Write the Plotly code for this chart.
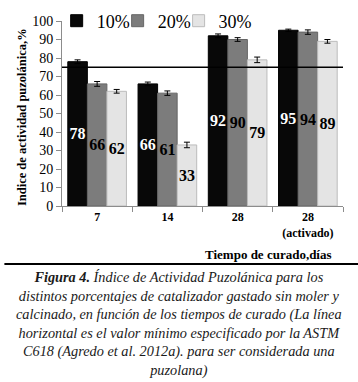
import plotly.graph_objects as go

categories = ["7", "14", "28", "28<br>(activado)"]
series_names = ["10%", "20%", "30%"]
values_10 = [78, 66, 92, 95]
values_20 = [66, 61, 90, 94]
values_30 = [62, 33, 79, 89]
errors_10 = [1.0, 1.0, 1.0, 0.6]
errors_20 = [1.3, 1.2, 1.0, 1.2]
errors_30 = [1.0, 1.5, 1.5, 1.0]
astm_minimum = 75
y_ticks = list(range(0, 101, 10))

colors = ["#080808", "#7c7c7c", "#e4e4e4"]
edge_colors = ["#000000", "#666666", "#bcbcbc"]
text_colors = ["white", "black", "black"]
legend_ids = ["legend", "legend2", "legend3"]
legend_x = [-0.019, 0.198, 0.415]

SERIF = "Liberation Serif, Times New Roman, serif"

fig = go.Figure()
for name, vals, errs, col, ecol, tcol, lid in zip(
    series_names, [values_10, values_20, values_30],
    [errors_10, errors_20, errors_30], colors, edge_colors, text_colors, legend_ids):
    fig.add_trace(go.Bar(
        x=categories, y=vals, name=name, legend=lid,
        marker=dict(color=col, line=dict(color=ecol, width=1)),
        error_y=dict(type="data", array=errs, color="black", thickness=1, width=3),
        text=[f"<b>{v}</b>" for v in vals],
        textposition="inside", insidetextanchor="middle",
        textangle=0, constraintext="none",
        insidetextfont=dict(family=SERIF, size=16, color=tcol),
    ))

fig.add_shape(type="line", xref="paper", yref="y", x0=0, x1=1,
              y0=astm_minimum, y1=astm_minimum,
              line=dict(color="black", width=1.5))

# separator line under chart
fig.add_shape(type="line", xref="paper", yref="paper", x0=-0.205, x1=1.06,
              y0=-0.3135, y1=-0.3135, line=dict(color="black", width=2))

fig.add_annotation(
    text="<b>Indice de actividad puzolánica,%</b>",
    xref="paper", yref="paper", x=-0.142, y=0.481, textangle=-90,
    showarrow=False, font=dict(family=SERIF, size=12.5, color="black"),
    xanchor="center", yanchor="middle")

fig.add_annotation(
    text="<b>Tiempo de curado,días</b>",
    xref="paper", yref="paper", x=0.967, y=-0.262,
    showarrow=False, font=dict(family=SERIF, size=13, color="black"),
    xanchor="right", yanchor="middle")

caption = ("<b><i>Figura 4.</i></b><i> Índice de Actividad Puzolánica para los<br>"
           "distintos porcentajes de catalizador gastado sin moler y<br>"
           "calcinado, en función de los tiempos de curado (La línea<br>"
           "horizontal es el valor mínimo especificado por la ASTM<br>"
           "C618 (Agredo et al. 2012a). para ser considerada una<br>"
           "puzolana)</i>")
fig.add_annotation(
    text=caption, xref="paper", yref="paper", x=0.418, y=-0.638,
    showarrow=False, align="center", xanchor="center", yanchor="middle",
    font=dict(family=SERIF, size=14.3, color="#1a1a1a"))

legend_common = dict(orientation="h", y=1.0, xanchor="left", yanchor="middle",
                     font=dict(family=SERIF, size=18, color="black"),
                     bgcolor="rgba(0,0,0,0)", itemwidth=30)

fig.update_layout(
    width=358, height=382,
    margin=dict(l=62, r=15, t=21, b=176, autoexpand=False),
    paper_bgcolor="white", plot_bgcolor="white",
    barmode="group", bargap=0.165, bargroupgap=0,
    font=dict(family=SERIF, color="black"),
    showlegend=True,
    legend=dict(x=legend_x[0], **legend_common),
    legend2=dict(x=legend_x[1], **legend_common),
    legend3=dict(x=legend_x[2], **legend_common),
)
fig.update_xaxes(
    showline=True, linecolor="#8c8c8c", linewidth=1,
    ticks="outside", tickson="boundaries", ticklen=5, tickcolor="#8c8c8c",
    tickfont=dict(family=SERIF, size=12, color="black"),
    showgrid=False, tickprefix="<b>", ticksuffix="</b>",
)
fig.update_yaxes(
    range=[0, 100], tickvals=y_ticks, showline=True, linecolor="#8c8c8c", linewidth=1,
    ticks="outside", ticklen=5, tickcolor="#8c8c8c", showgrid=False,
    tickfont=dict(family=SERIF, size=14, color="black"), zeroline=False,
)

fig.write_html("out.html",
               config={"displayModeBar": False},
               post_script="document.body.style.margin='0';document.body.style.overflow='hidden';")
